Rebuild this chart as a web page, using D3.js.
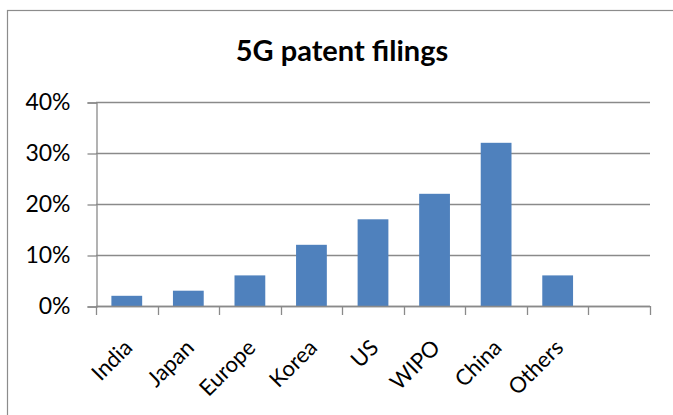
<!DOCTYPE html>
<html>
<head>
<meta charset="utf-8">
<script src="https://cdn.jsdelivr.net/npm/d3@7"></script>
<style>
  body { margin: 0; background: #fff; }
  text { font-family: Lato, "Open Sans", sans-serif; fill: #000; }
</style>
</head>
<body>
<div class="chart"></div>
<script>
// data (last slot is an empty category)
const categories = ['India', 'Japan', 'Europe', 'Korea', 'US', 'WIPO', 'China', 'Others', ''];
const shares = [0.02, 0.03, 0.06, 0.12, 0.17, 0.22, 0.32, 0.06, null];
const yTicks = [0, 0.1, 0.2, 0.3, 0.4];
const title = '5G patent filings';

const width = 673;
const height = 415;
const plotL = 96, plotR = 650, plotT = 102, plotB = 306;

const svg = d3.select('.chart')
  .append('svg')
  .attr('width', width)
  .attr('height', height);

// chart frame, runs off the right and bottom edge
svg.append('rect')
  .attr('x', 7.5)
  .attr('y', 10.5)
  .attr('width', 800)
  .attr('height', 600)
  .style('fill', 'none')
  .style('stroke', '#8c8c8c')
  .style('stroke-width', 1.2);

svg.append('text')
  .attr('x', 342)
  .attr('y', 61)
  .attr('text-anchor', 'middle')
  .style('font-size', '29px')
  .style('font-weight', 'bold')
  .text(title);

const x = d3.scaleBand()
  .domain(categories)
  .range([plotL, plotR])
  .paddingInner(0.5)
  .paddingOuter(0.25);

const y = d3.scaleLinear()
  .domain([0, 0.4])
  .range([plotB, plotT]);

// gridlines
svg.append('g')
  .selectAll('line')
  .data(yTicks)
  .join('line')
  .attr('x1', plotL)
  .attr('x2', plotR)
  .attr('y1', d => Math.round(y(d)) + 0.5)
  .attr('y2', d => Math.round(y(d)) + 0.5)
  .style('stroke', '#8a8a8a')
  .style('stroke-width', 1.3);

// y axis
const yAxis = svg.append('g')
  .attr('transform', `translate(${plotL + 0.5},0.5)`)
  .call(d3.axisLeft(y)
    .tickValues(yTicks)
    .tickFormat(d3.format('.0%'))
    .tickSize(9)
    .tickPadding(17));
yAxis.select('.domain').style('stroke', '#8a8a8a').style('stroke-width', 1.3);
yAxis.selectAll('.tick line').style('stroke', '#8a8a8a').style('stroke-width', 1.3);
yAxis.selectAll('.tick text')
  .style('font-size', '23px')
  .style('font-family', 'Lato, sans-serif')
  .attr('fill', '#000');

// bars
svg.append('g')
  .selectAll('rect')
  .data(categories.map((c, i) => ({ c, v: shares[i] })).filter(d => d.v != null))
  .join('rect')
  .attr('x', d => x(d.c))
  .attr('width', x.bandwidth())
  .attr('y', d => y(d.v))
  .attr('height', d => y(0) - y(d.v))
  .style('fill', '#4f81bd');

// x axis: ticks sit on the category boundaries
const step = x.step();
const bounds = categories.map(c => x(c) - step * 0.25).concat([plotR]);
svg.append('line')
  .attr('x1', plotL)
  .attr('x2', plotR)
  .attr('y1', plotB + 0.5)
  .attr('y2', plotB + 0.5)
  .style('stroke', '#8a8a8a')
  .style('stroke-width', 1.3);
svg.append('g')
  .selectAll('line')
  .data(bounds)
  .join('line')
  .attr('x1', d => Math.round(d) + 0.5)
  .attr('x2', d => Math.round(d) + 0.5)
  .attr('y1', plotB)
  .attr('y2', plotB + 9)
  .style('stroke', '#8a8a8a')
  .style('stroke-width', 1.3);

// rotated category labels
svg.append('g')
  .selectAll('text')
  .data(categories.filter(c => c !== ''))
  .join('text')
  .attr('text-anchor', 'end')
  .attr('transform', c => `translate(${x(c) + x.bandwidth() / 2 + 7},349) rotate(-45)`)
  .style('font-size', '22px')
  .text(c => c);
</script>
</body>
</html>
